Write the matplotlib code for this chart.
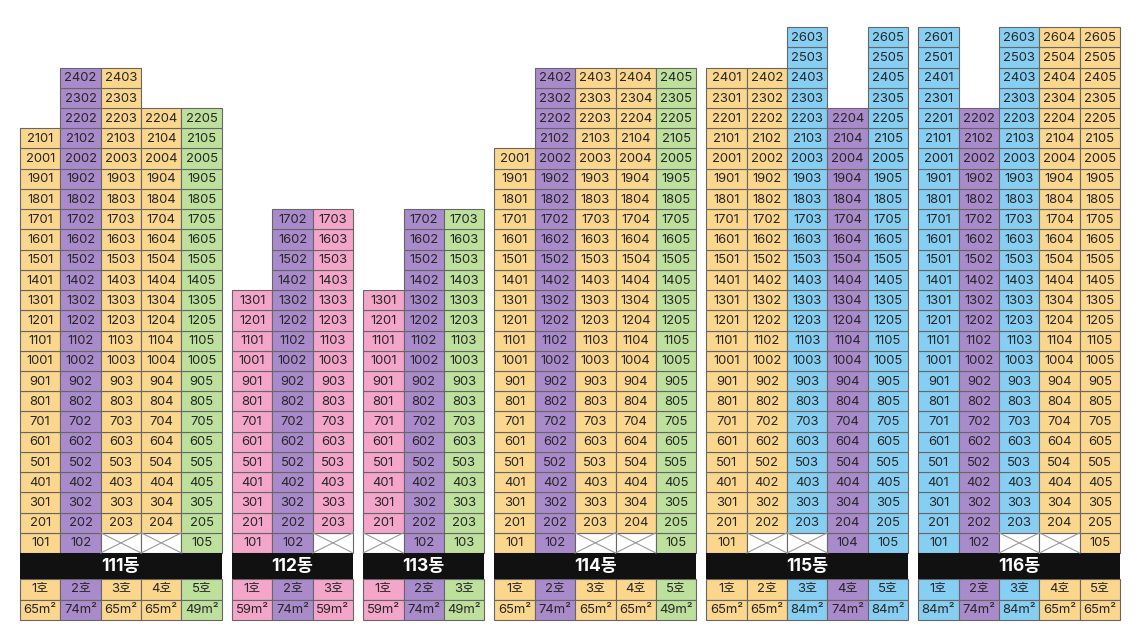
import matplotlib
matplotlib.use('Agg')
import matplotlib.pyplot as plt
import matplotlib.patches as mpatches

plt.rcParams['font.family'] = ['Inter', 'Noto Sans CJK KR', 'DejaVu Sans']

# building data
buildings = ['111동', '112동', '113동', '114동', '115동', '116동']
areas = [[65, 74, 65, 65, 49],
         [59, 74, 59],
         [59, 74, 49],
         [65, 74, 65, 65, 49],
         [65, 65, 84, 74, 84],
         [84, 74, 84, 65, 65]]
top_floors = [[21, 24, 24, 22, 22],
              [13, 17, 17],
              [13, 17, 17],
              [20, 24, 24, 24, 24],
              [24, 24, 26, 22, 26],
              [26, 22, 26, 26, 26]]
# line numbers (호) with no unit on floor 1
empty_first = [[3, 4], [3], [1], [3, 4], [2, 3], [3, 4]]

area_colors = {49: '#bde09d', 59: '#f3a6c9', 65: '#fbd68d', 74: '#a98bcb', 84: '#86cff3'}

edge = '#666666'
txt = '#262626'
gap = 0.25
band_h = 1.3
fs = 9.4

fig = plt.figure(figsize=(11.44, 6.33), dpi=100)
ax = fig.add_axes([0, 0, 1, 1])
ax.set_xlim(-0.495, 27.84)
ax.set_ylim(-3.955, 27.34)
ax.axis('off')

x0 = 0
for b, name in enumerate(buildings):
    ncol = len(areas[b])
    for c in range(ncol):
        x = x0 + c
        area = areas[b][c]
        col = area_colors[area]
        for f in range(1, top_floors[b][c] + 1):
            y = f - 1
            if f == 1 and (c + 1) in empty_first[b]:
                ax.add_patch(mpatches.Rectangle((x, y), 1, 1, facecolor='white',
                                                edgecolor=edge, lw=0.8))
                ax.plot([x, x + 1], [y, y + 1], color='#9a9a9a', lw=0.8)
                ax.plot([x, x + 1], [y + 1, y], color='#9a9a9a', lw=0.8)
                continue
            ax.add_patch(mpatches.Rectangle((x, y), 1, 1, facecolor=col,
                                            edgecolor=edge, lw=0.8))
            ax.text(x + 0.5, y + 0.47, str(f * 100 + c + 1), ha='center', va='center',
                    fontsize=fs, color=txt)
        # legend rows under the band
        y1 = -band_h - 1
        ax.add_patch(mpatches.Rectangle((x, y1), 1, 1, facecolor=col, edgecolor=edge, lw=0.8))
        ax.text(x + 0.5, y1 + 0.5, f'{c + 1}호', ha='center', va='center',
                fontsize=fs, color=txt)
        y2 = -band_h - 2
        ax.add_patch(mpatches.Rectangle((x, y2), 1, 1, facecolor=col, edgecolor=edge, lw=0.8))
        ax.text(x + 0.5, y2 + 0.47, f'{area}m²', ha='center', va='center',
                fontsize=fs, color=txt)
    # black band with building name
    ax.add_patch(mpatches.Rectangle((x0, -band_h), ncol, band_h, facecolor='#111111',
                                    edgecolor='none'))
    ax.text(x0 + ncol / 2, -band_h / 2, name, ha='center', va='center',
            fontsize=12.5, fontweight='bold', color='white')
    x0 += ncol + gap

plt.savefig('out.png', dpi=100)
